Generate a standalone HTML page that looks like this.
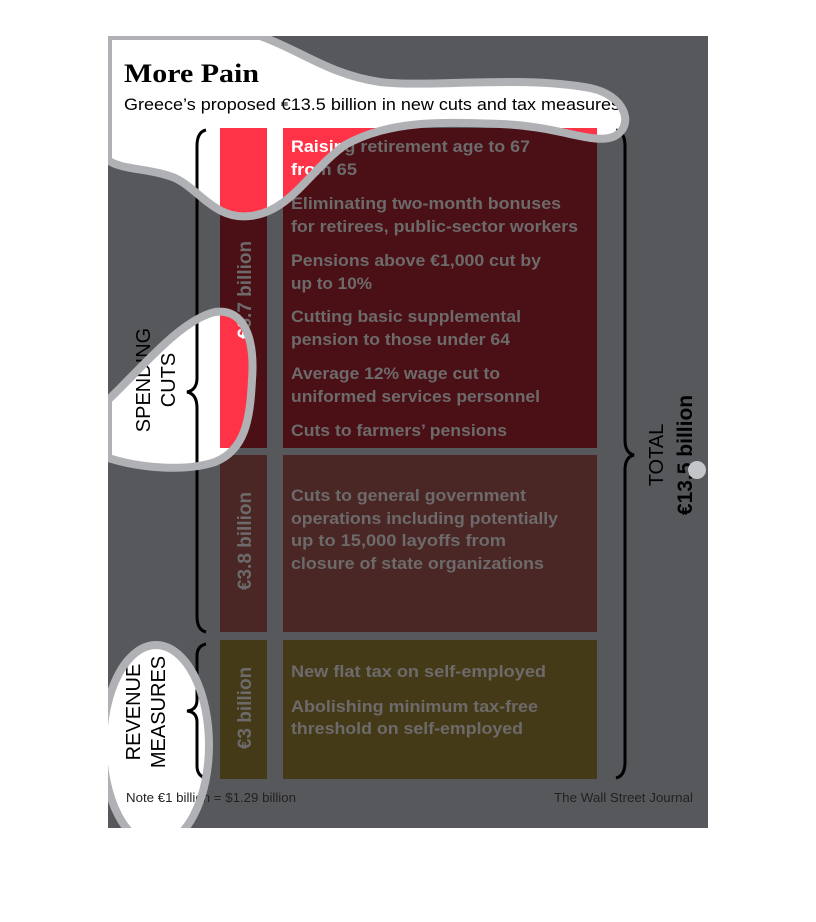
<!DOCTYPE html>
<html><head><meta charset="utf-8"><style>
html,body{margin:0;padding:0;background:#fff;}
svg{display:block;}
.b{font-family:"Liberation Sans",sans-serif;font-weight:bold;font-size:17px;}
.dim{--bg:#57585c;--red:#4a1016;--brown:#4a2624;--olive:#453a17;--tx:#6d6a6b;--lab:#6d6a6b;}
.bright{--bg:#ffffff;--red:#ff3347;--brown:#d46e68;--olive:#c9a227;--tx:#ffffff;--lab:#ffffff;}
</style></head><body>
<svg width="816" height="922" viewBox="0 0 816 922" xmlns="http://www.w3.org/2000/svg">
<defs>
<clipPath id="panel"><rect x="108" y="36" width="600" height="792"/></clipPath>
<clipPath id="blobs">
<path d="M108,36 L260,36 C300,50 330,75 380,82 C430,88 520,75 590,88 C625,95 635,125 615,136 C595,146 560,126 500,124 C440,122 390,120 345,145 C310,170 290,212 250,216 C215,220 200,190 175,178 C150,168 120,170 108,160 Z"/>
<path d="M108,400 C140,370 180,320 215,312 C245,308 255,340 252,380 C250,420 245,450 215,462 C185,472 140,468 108,458 Z"/>
<ellipse cx="156" cy="745" rx="53" ry="100"/>
</clipPath>
<g id="chart">
<rect x="108" y="36" width="600" height="792" style="fill:var(--bg)"/>
<rect x="220" y="128" width="47" height="320" style="fill:var(--red)"/>
<rect x="283" y="128" width="314" height="320" style="fill:var(--red)"/>
<rect x="220" y="455" width="47" height="177" style="fill:var(--brown)"/>
<rect x="283" y="455" width="314" height="177" style="fill:var(--brown)"/>
<rect x="220" y="640" width="47" height="139" style="fill:var(--olive)"/>
<rect x="283" y="640" width="314" height="139" style="fill:var(--olive)"/>
<g class="b" style="fill:var(--tx)">
<text x="291" y="152" textLength="239" lengthAdjust="spacingAndGlyphs">Raising retirement age to 67</text>
<text x="291" y="175" textLength="66" lengthAdjust="spacingAndGlyphs">from 65</text>
<text x="291" y="209" textLength="270" lengthAdjust="spacingAndGlyphs">Eliminating two-month bonuses</text>
<text x="291" y="232" textLength="287" lengthAdjust="spacingAndGlyphs">for retirees, public-sector workers</text>
<text x="291" y="266" textLength="250" lengthAdjust="spacingAndGlyphs">Pensions above €1,000 cut by</text>
<text x="291" y="289" textLength="81" lengthAdjust="spacingAndGlyphs">up to 10%</text>
<text x="291" y="322" textLength="230" lengthAdjust="spacingAndGlyphs">Cutting basic supplemental</text>
<text x="291" y="345" textLength="219" lengthAdjust="spacingAndGlyphs">pension to those under 64</text>
<text x="291" y="379" textLength="209" lengthAdjust="spacingAndGlyphs">Average 12% wage cut to</text>
<text x="291" y="402" textLength="249" lengthAdjust="spacingAndGlyphs">uniformed services personnel</text>
<text x="291" y="436" textLength="216" lengthAdjust="spacingAndGlyphs">Cuts to farmers’ pensions</text>
<text x="291" y="501" textLength="235" lengthAdjust="spacingAndGlyphs">Cuts to general government</text>
<text x="291" y="524" textLength="267" lengthAdjust="spacingAndGlyphs">operations including potentially</text>
<text x="291" y="546" textLength="215" lengthAdjust="spacingAndGlyphs">up to 15,000 layoffs from</text>
<text x="291" y="569" textLength="253" lengthAdjust="spacingAndGlyphs">closure of state organizations</text>
<text x="291" y="677" textLength="255" lengthAdjust="spacingAndGlyphs">New flat tax on self-employed</text>
<text x="291" y="712" textLength="247" lengthAdjust="spacingAndGlyphs">Abolishing minimum tax-free</text>
<text x="291" y="734" textLength="232" lengthAdjust="spacingAndGlyphs">threshold on self-employed</text>
</g>
<g class="b" style="fill:var(--lab);font-size:19px" text-anchor="middle">
<text transform="translate(251,290) rotate(-90)">€6.7 billion</text>
<text transform="translate(251,541) rotate(-90)">€3.8 billion</text>
<text transform="translate(251,708) rotate(-90)">€3 billion</text>
</g>
<text x="124" y="82" style="font-family:'Liberation Serif',serif;font-weight:bold;font-size:26px" textLength="135" lengthAdjust="spacingAndGlyphs">More Pain</text>
<text x="124" y="110" style="font-family:'Liberation Sans',sans-serif;font-size:17px" textLength="496" lengthAdjust="spacingAndGlyphs">Greece’s proposed €13.5 billion in new cuts and tax measures</text>
<g style="font-family:'Liberation Sans',sans-serif;font-size:20px" text-anchor="middle">
<text transform="translate(150,380) rotate(-90)">SPENDING</text>
<text transform="translate(175,380) rotate(-90)">CUTS</text>
<text transform="translate(140,712) rotate(-90)">REVENUE</text>
<text transform="translate(165,712) rotate(-90)">MEASURES</text>
<text transform="translate(663,455) rotate(-90)">TOTAL</text>
</g>
<text transform="translate(692,455) rotate(-90)" text-anchor="middle" style="font-family:'Liberation Sans',sans-serif;font-weight:bold;font-size:21px">€13.5 billion</text>
<text x="126" y="802" style="font-family:'Liberation Sans',sans-serif;font-size:13px" fill="#222" textLength="170" lengthAdjust="spacingAndGlyphs">Note €1 billion = $1.29 billion</text>
<text x="693" y="802" text-anchor="end" style="font-family:'Liberation Sans',sans-serif;font-size:13px" fill="#222" textLength="139" lengthAdjust="spacingAndGlyphs">The Wall Street Journal</text>
<g fill="none" stroke="#000" stroke-width="3">
<path d="M206,130 Q197,132 197,146 L197,378 Q197,390 187,392 Q197,394 197,408 L197,616 Q197,630 206,632"/>
<path d="M206,644 Q197,646 197,656 L197,700 Q197,710 187,711 Q197,712 197,722 L197,766 Q197,776 206,778"/>
<path d="M616,130 Q625,132 625,146 L625,440 Q625,453 634,455 Q625,457 625,470 L625,762 Q625,776 616,778"/>
</g>
</g>
</defs>
<g clip-path="url(#panel)">
<use href="#chart" class="dim"/>
<g clip-path="url(#blobs)"><use href="#chart" class="bright"/></g>
<g fill="none" stroke="#b0b1b5" stroke-width="8">
<path d="M108,36 L260,36 C300,50 330,75 380,82 C430,88 520,75 590,88 C625,95 635,125 615,136 C595,146 560,126 500,124 C440,122 390,120 345,145 C310,170 290,212 250,216 C215,220 200,190 175,178 C150,168 120,170 108,160 Z"/>
<path d="M108,400 C140,370 180,320 215,312 C245,308 255,340 252,380 C250,420 245,450 215,462 C185,472 140,468 108,458 Z"/>
<ellipse cx="156" cy="745" rx="53" ry="100"/>
</g>
<circle cx="697" cy="470" r="9" fill="#c4c5c9"/>
</g>
</svg>
</body></html>
